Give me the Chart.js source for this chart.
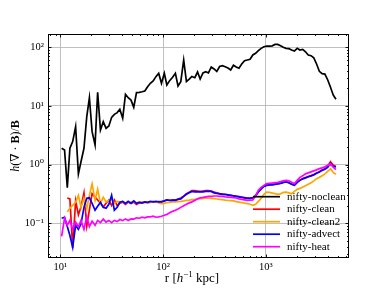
<!DOCTYPE html>
<html>
<head>
<meta charset="utf-8">
<title>divergence error vs radius</title>
<script src="https://cdn.jsdelivr.net/npm/chart.js@4"></script>
<style>
    html, body { margin: 0; padding: 0; background: #ffffff; }
    #wrap { width: 388px; height: 291px; }
</style>
</head>
<body>
<div id="wrap"><canvas id="chart" width="388" height="291"></canvas></div>
<script>
// Radial bins (h^-1 kpc), shared by every run
const radius = [
    10.3, 11.0, 11.7, 12.4, 13.2, 14.1, 15.0, 15.9, 17.0, 18.1,
    19.2, 20.4, 21.8, 23.1, 24.6, 26.2, 27.9, 29.7, 31.6, 33.6,
    35.8, 38.0, 40.5, 43.1, 45.8, 48.8, 51.9, 55.2, 58.8, 62.5,
    66.5, 70.8, 75.3, 80.2, 85.3, 90.8, 96.6, 103, 109, 116,
    124, 132, 140, 149, 159, 169, 180, 191, 204, 217,
    230, 245, 261, 277, 295, 314, 334, 356, 379, 403,
    429, 456, 485, 516, 549, 584, 622, 662, 704, 749,
    797, 848, 903, 961, 1022, 1088, 1158, 1232, 1311, 1395,
    1484, 1579, 1681, 1788, 1903, 2025, 2155, 2293, 2440, 2596,
    2763, 2938, 3127, 3327, 3540, 3767, 4009, 4266, 4539, 4830
];

const noclean = [
    1.90, 1.78, 0.405, 1.90, 2.47, 4.43, 0.695, 1.12, 1.90, 6.6,
    13.8, 3.65, 2.17, 17.1, 3.9, 5.4, 4.17, 4.56, 6.4, 7.2,
    7.7, 8.8, 6.2, 15.8, 13.8, 12.6, 9.5, 16.9, 17.1, 17.5,
    18.0, 21.3, 24.4, 26.7, 31.6, 36.1, 24.4, 36.1, 22.8, 27.0,
    30.8, 36.1, 21.9, 26.0, 60.8, 26.1, 28.8, 31.8, 30.3, 37.9,
    28.8, 36.5, 38.4, 36.5, 46.2, 42.7, 38.7, 47.1, 48.6, 46.7,
    44.4, 41.1, 49.4, 46.2, 43.9, 51.9, 59.1, 60.8, 62.5, 74.0,
    79.0, 87.5, 96.0, 102, 105, 105, 106, 112, 112, 106,
    100, 96.0, 94.7, 90.0, 86.5, 96.0, 90.0, 92.0, 84.0, 74.0,
    72.0, 66.0, 52.0, 39.0, 35.5, 35.0, 28.0, 21.0, 15.4, 13.0
];

const clean = [
    null, null, 0.27, 0.26, 0.038, 0.24, 0.14, 0.19, 0.33, 0.09,
    0.17, 0.32, 0.28, 0.25, 0.22, 0.19, 0.22, 0.25, 0.20, 0.25,
    0.20, 0.22, 0.23, 0.21, 0.23, 0.22, 0.23, 0.21, 0.225, 0.22,
    0.23, 0.225, 0.23, 0.235, 0.23, 0.235, 0.235, 0.24, 0.25, 0.245,
    0.25, 0.25, 0.26, 0.27, 0.29, 0.32, 0.34, 0.36, 0.36, 0.355,
    0.35, 0.355, 0.36, 0.36, 0.355, 0.34, 0.33, 0.32, 0.315, 0.31,
    0.305, 0.30, 0.295, 0.29, 0.285, 0.28, 0.275, 0.27, 0.27, 0.275,
    0.30, 0.345, 0.39, 0.43, 0.45, 0.455, 0.46, 0.465, 0.475, 0.485,
    0.50, 0.51, 0.49, 0.465, 0.45, 0.50, 0.545, 0.58, 0.60, 0.625,
    0.65, 0.68, 0.72, 0.76, 0.81, 0.85, 0.93, 1.12, 0.98, 0.93
];

const clean2 = [
    null, null, 0.157, 0.18, 0.203, 0.228, 0.30, 0.187, 0.267, 0.18,
    0.30, 0.47, 0.246, 0.379, 0.219, 0.277, 0.232, 0.246, 0.256, 0.219,
    0.237, 0.228, 0.237, 0.219, 0.232, 0.228, 0.237, 0.223, 0.232, 0.228,
    0.232, 0.223, 0.228, 0.232, 0.231, 0.223, 0.217, 0.219, 0.226, 0.228,
    0.231, 0.231, 0.234, 0.237, 0.241, 0.246, 0.249, 0.253, 0.256, 0.26,
    0.263, 0.267, 0.269, 0.27, 0.267, 0.263, 0.26, 0.256, 0.253, 0.249,
    0.246, 0.244, 0.241, 0.234, 0.23, 0.226, 0.221, 0.217, 0.211, 0.203,
    0.211, 0.237, 0.267, 0.312, 0.341, 0.337, 0.328, 0.32, 0.312, 0.318,
    0.337, 0.341, 0.331, 0.32, 0.35, 0.379, 0.394, 0.415, 0.435, 0.462,
    0.49, 0.53, 0.578, 0.607, 0.644, 0.697, 0.769, 0.848, 0.739, 0.684
];

const advect = [
    0.122, 0.127, 0.088, 0.062, 0.039, 0.093, 0.079, 0.097, 0.187, 0.267,
    0.272, 0.219, 0.167, 0.195, 0.228, 0.187, 0.180, 0.211, 0.30, 0.167,
    0.187, 0.228, 0.237, 0.219, 0.237, 0.219, 0.241, 0.219, 0.228, 0.223,
    0.232, 0.228, 0.237, 0.232, 0.237, 0.232, 0.232, 0.241, 0.251, 0.246,
    0.246, 0.246, 0.256, 0.261, 0.288, 0.312, 0.331, 0.35, 0.343, 0.343,
    0.343, 0.343, 0.35, 0.35, 0.35, 0.331, 0.324, 0.318, 0.312, 0.312,
    0.306, 0.30, 0.294, 0.288, 0.283, 0.277, 0.272, 0.267, 0.267, 0.272,
    0.294, 0.343, 0.386, 0.427, 0.444, 0.453, 0.453, 0.462, 0.471, 0.48,
    0.499, 0.509, 0.49, 0.462, 0.444, 0.499, 0.54, 0.573, 0.596, 0.62,
    0.644, 0.67, 0.711, 0.748, 0.80, 0.832, 0.90, 1.05, 0.935, 0.917
];

const heat = [
    0.06, 0.122, 0.093, 0.112, 0.08, 0.105, 0.087, 0.112, 0.079, 0.129,
    0.088, 0.109, 0.092, 0.112, 0.103, 0.118, 0.105, 0.112, 0.103, 0.112,
    0.107, 0.116, 0.111, 0.119, 0.112, 0.119, 0.118, 0.124, 0.122, 0.127,
    0.124, 0.129, 0.129, 0.132, 0.127, 0.129, 0.132, 0.137, 0.142, 0.151,
    0.16, 0.167, 0.176, 0.187, 0.199, 0.211, 0.223, 0.232, 0.246, 0.261,
    0.272, 0.277, 0.283, 0.288, 0.288, 0.292, 0.292, 0.288, 0.288, 0.283,
    0.28, 0.277, 0.274, 0.27, 0.261, 0.256, 0.251, 0.246, 0.248, 0.25,
    0.294, 0.365, 0.41, 0.444, 0.475, 0.48, 0.486, 0.493, 0.499, 0.513,
    0.53, 0.54, 0.53, 0.499, 0.475, 0.54, 0.607, 0.644, 0.697, 0.725,
    0.754, 0.784, 0.815, 0.855, 0.882, 0.917, 0.973, 1.03, 0.91, 0.822
];

const runNames = ['nifty-noclean', 'nifty-clean', 'nifty-clean2', 'nifty-advect', 'nifty-heat'];
const runColors = ['#000000', '#ff0000', '#ffa500', '#0000ff', '#ff00ff'];
const runValues = [noclean, clean, clean2, advect, heat];

const SERIF = '"Liberation Serif", "DejaVu Serif", serif';
const SUP = { '-': '\u207b', '0': '\u2070', '1': '\u00b9', '2': '\u00b2', '3': '\u00b3' };

function isDecade(v) {
    const l = Math.log10(v);
    return Math.abs(l - Math.round(l)) < 1e-6;
}

function decadeLabel(v) {
    const e = String(Math.round(Math.log10(v)));
    return '10' + e.split('').map(function(c) { return SUP[c]; }).join('');
}

// Draw a run of text pieces with different fonts, centred on x
function drawPieces(ctx, pieces, x, y) {
    let total = 0;
    pieces.forEach(function(p) { ctx.font = p.font; total += ctx.measureText(p.text).width; });
    let cx = x - total / 2;
    pieces.forEach(function(p) {
        ctx.font = p.font;
        ctx.fillText(p.text, cx, y + (p.dy || 0));
        cx += ctx.measureText(p.text).width;
    });
}

// Frame, inward ticks, legend and axis titles (matplotlib look)
const decorPlugin = {
    id: 'decor',
    afterDatasetsDraw(chart) {
        const ctx = chart.ctx;
        const a = chart.chartArea;
        const xs = chart.scales.x;
        const ys = chart.scales.y;
        ctx.save();
        ctx.strokeStyle = '#000000';
        ctx.lineWidth = 0.9;
        ctx.beginPath();
        for (let e = 0; e <= 3; e++) {
            for (let m = 1; m <= 9; m++) {
                const v = m * Math.pow(10, e);
                if (v < xs.min || v > xs.max) continue;
                const px = Math.round(xs.getPixelForValue(v)) + 0.5;
                const len = m === 1 ? 3.5 : 2;
                ctx.moveTo(px, a.bottom); ctx.lineTo(px, a.bottom - len);
                ctx.moveTo(px, a.top); ctx.lineTo(px, a.top + len);
            }
        }
        for (let e = -2; e <= 2; e++) {
            for (let m = 1; m <= 9; m++) {
                const v = m * Math.pow(10, e);
                if (v < ys.min || v > ys.max) continue;
                const py = Math.round(ys.getPixelForValue(v)) + 0.5;
                const len = m === 1 ? 3.5 : 2;
                ctx.moveTo(a.left, py); ctx.lineTo(a.left + len, py);
                ctx.moveTo(a.right, py); ctx.lineTo(a.right - len, py);
            }
        }
        ctx.stroke();
        ctx.lineWidth = 1;
        ctx.strokeRect(Math.round(a.left) + 0.5, Math.round(a.top) + 0.5,
            Math.round(a.right - a.left) - 1, Math.round(a.bottom - a.top) - 1);

        // legend, no frame, lower right inside the axes
        ctx.textAlign = 'left';
        ctx.textBaseline = 'middle';
        ctx.font = '11px ' + SERIF;
        runNames.forEach(function(name, i) {
            const yy = a.top + 162.7 + i * 12.5;
            ctx.strokeStyle = runColors[i];
            ctx.lineWidth = 1.7;
            ctx.beginPath();
            ctx.moveTo(a.right - 96, yy);
            ctx.lineTo(a.right - 69, yy);
            ctx.stroke();
            ctx.fillStyle = '#000000';
            ctx.fillText(name, a.right - 62, yy);
        });

        // axis titles
        ctx.fillStyle = '#000000';
        ctx.textBaseline = 'alphabetic';
        const normal = '13px ' + SERIF;
        const italic = 'italic 13px ' + SERIF;
        drawPieces(ctx, [
            { text: 'r [', font: normal },
            { text: 'h', font: italic },
            { text: '\u22121', font: '9px ' + SERIF, dy: -5 },
            { text: ' kpc]', font: normal }
        ], 192, 282);

        const yNormal = '12px ' + SERIF;
        ctx.save();
        ctx.translate(19, (a.top + a.bottom) / 2);
        ctx.rotate(-Math.PI / 2);
        drawPieces(ctx, [
            { text: 'h', font: 'italic 12px ' + SERIF },
            { text: '(\u2207 \u00b7 ', font: yNormal },
            { text: 'B', font: 'bold 12px ' + SERIF },
            { text: ')/', font: yNormal },
            { text: 'B', font: 'bold 12px ' + SERIF }
        ], 0, 0);
        ctx.restore();
        ctx.restore();
    }
};

function gridColor(c) {
    return c.tick && isDecade(c.tick.value) ? '#b0b0b0' : 'rgba(0,0,0,0)';
}

const datasets = runNames.map(function(name, i) {
    return {
        label: name,
        data: radius.map(function(r, k) { return { x: r, y: runValues[i][k] }; }),
        borderColor: runColors[i],
        borderWidth: 1.7,
        pointRadius: 0,
        fill: false,
        tension: 0,
        spanGaps: false,
        order: runNames.length - i
    };
});

new Chart(document.getElementById('chart').getContext('2d'), {
    type: 'line',
    data: { datasets: datasets },
    options: {
        responsive: false,
        animation: false,
        devicePixelRatio: 1,
        events: [],
        layout: { padding: { left: 0, right: 39, top: 34, bottom: 0 } },
        plugins: { legend: { display: false }, tooltip: { enabled: false } },
        scales: {
            x: {
                type: 'logarithmic',
                min: 7.59,
                max: 6470,
                border: { display: false },
                grid: { drawTicks: false, color: gridColor, lineWidth: 0.8 },
                ticks: {
                    autoSkip: false, maxRotation: 0, padding: 3, color: '#000000',
                    font: { family: SERIF, size: 10.5 },
                    callback: function(v) { return isDecade(v) ? decadeLabel(v) : ''; }
                },
                afterFit: function(s) { s.height = 33; }
            },
            y: {
                type: 'logarithmic',
                min: 0.02564,
                max: 168.5,
                border: { display: false },
                grid: { drawTicks: false, color: gridColor, lineWidth: 0.8 },
                ticks: {
                    autoSkip: false, padding: 4, color: '#000000',
                    font: { family: SERIF, size: 10.5 },
                    callback: function(v) { return isDecade(v) ? decadeLabel(v) : ''; }
                },
                afterFit: function(s) { s.width = 48; }
            }
        }
    },
    plugins: [decorPlugin]
});
</script>
</body>
</html>
